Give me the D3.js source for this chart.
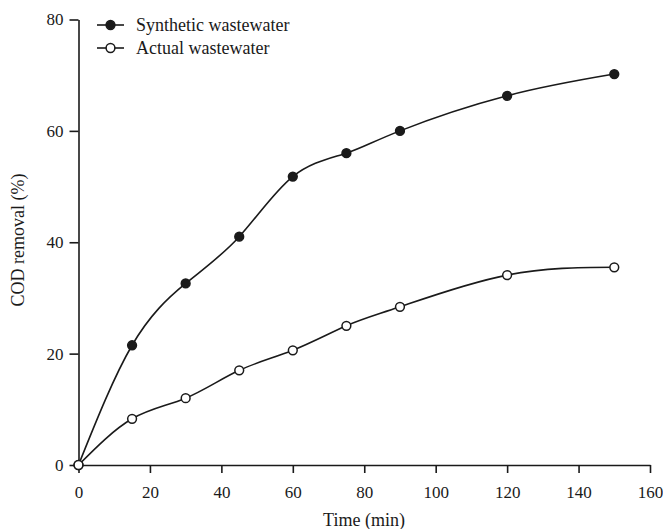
<!DOCTYPE html>
<html><head><meta charset="utf-8">
<script src="https://cdn.jsdelivr.net/npm/d3@7"></script>
<style>body{margin:0;background:#fff}svg{display:block}</style>
</head><body>
<svg id="chart" width="663" height="529"></svg>
<script>
const times = [0, 15, 30, 45, 60, 75, 90, 120, 150];
const synthetic = [0, 21.5, 32.6, 41.0, 51.8, 56.0, 60.0, 66.3, 70.2];
const actual = [0, 8.3, 12.0, 17.0, 20.6, 25.0, 28.4, 34.1, 35.5];
const xTicks = [0, 20, 40, 60, 80, 100, 120, 140, 160];
const yTicks = [0, 20, 40, 60, 80];
const seriesNames = ["Synthetic wastewater", "Actual wastewater"];

const svg = d3.select("#chart");
const font = "'Liberation Serif', 'Times New Roman', serif";
const x = d3.scaleLinear().domain([0, 160]).range([78.5, 650]);
const y = d3.scaleLinear().domain([0, 80]).range([465, 19.5]);
const col = "#1a1a1a";

const xAxis = svg.append("g").attr("transform", "translate(0,465)")
  .call(d3.axisBottom(x).tickValues(xTicks).tickSize(8).tickPadding(13).tickSizeOuter(0));
const yAxis = svg.append("g").attr("transform", "translate(78.5,0)")
  .call(d3.axisLeft(y).tickValues(yTicks).tickSize(9).tickPadding(6).tickSizeOuter(0));
[xAxis, yAxis].forEach(a => {
  a.selectAll("path,line").attr("stroke", col).attr("stroke-width", 1.6);
  a.selectAll("text").attr("font-family", font).attr("font-size", 17).attr("fill", col);
});

const line = d3.line().x(d => x(d[0])).y(d => y(d[1])).curve(d3.curveNatural);
const sets = [synthetic, actual];
sets.forEach((vals, i) => {
  const pts = times.map((t, j) => [t, vals[j]]);
  svg.append("path").datum(pts).attr("d", line).attr("fill", "none")
    .attr("stroke", col).attr("stroke-width", 1.6);
  svg.append("g").selectAll("circle").data(pts).join("circle")
    .attr("cx", d => x(d[0])).attr("cy", d => y(d[1])).attr("r", 4.4)
    .attr("fill", i === 0 ? col : "#fff").attr("stroke", col).attr("stroke-width", 1.5);
});

// legend
seriesNames.forEach((name, i) => {
  const ly = 25 + i * 23;
  const g = svg.append("g");
  g.append("line").attr("x1", 97).attr("x2", 124).attr("y1", ly).attr("y2", ly)
    .attr("stroke", col).attr("stroke-width", 1.6);
  g.append("circle").attr("cx", 110.5).attr("cy", ly).attr("r", 4.4)
    .attr("fill", i === 0 ? col : "#fff").attr("stroke", col).attr("stroke-width", 1.5);
  g.append("text").attr("x", 136).attr("y", ly + 6).text(name)
    .attr("font-family", font).attr("font-size", 18).attr("fill", col);
});

svg.append("text").attr("x", 364).attr("y", 526).attr("text-anchor", "middle")
  .attr("font-family", font).attr("font-size", 18).attr("fill", col).text("Time (min)");
svg.append("text").attr("transform", "translate(24,240) rotate(-90)").attr("text-anchor", "middle")
  .attr("font-family", font).attr("font-size", 18).attr("fill", col).text("COD removal (%)");
</script>
</body></html>
